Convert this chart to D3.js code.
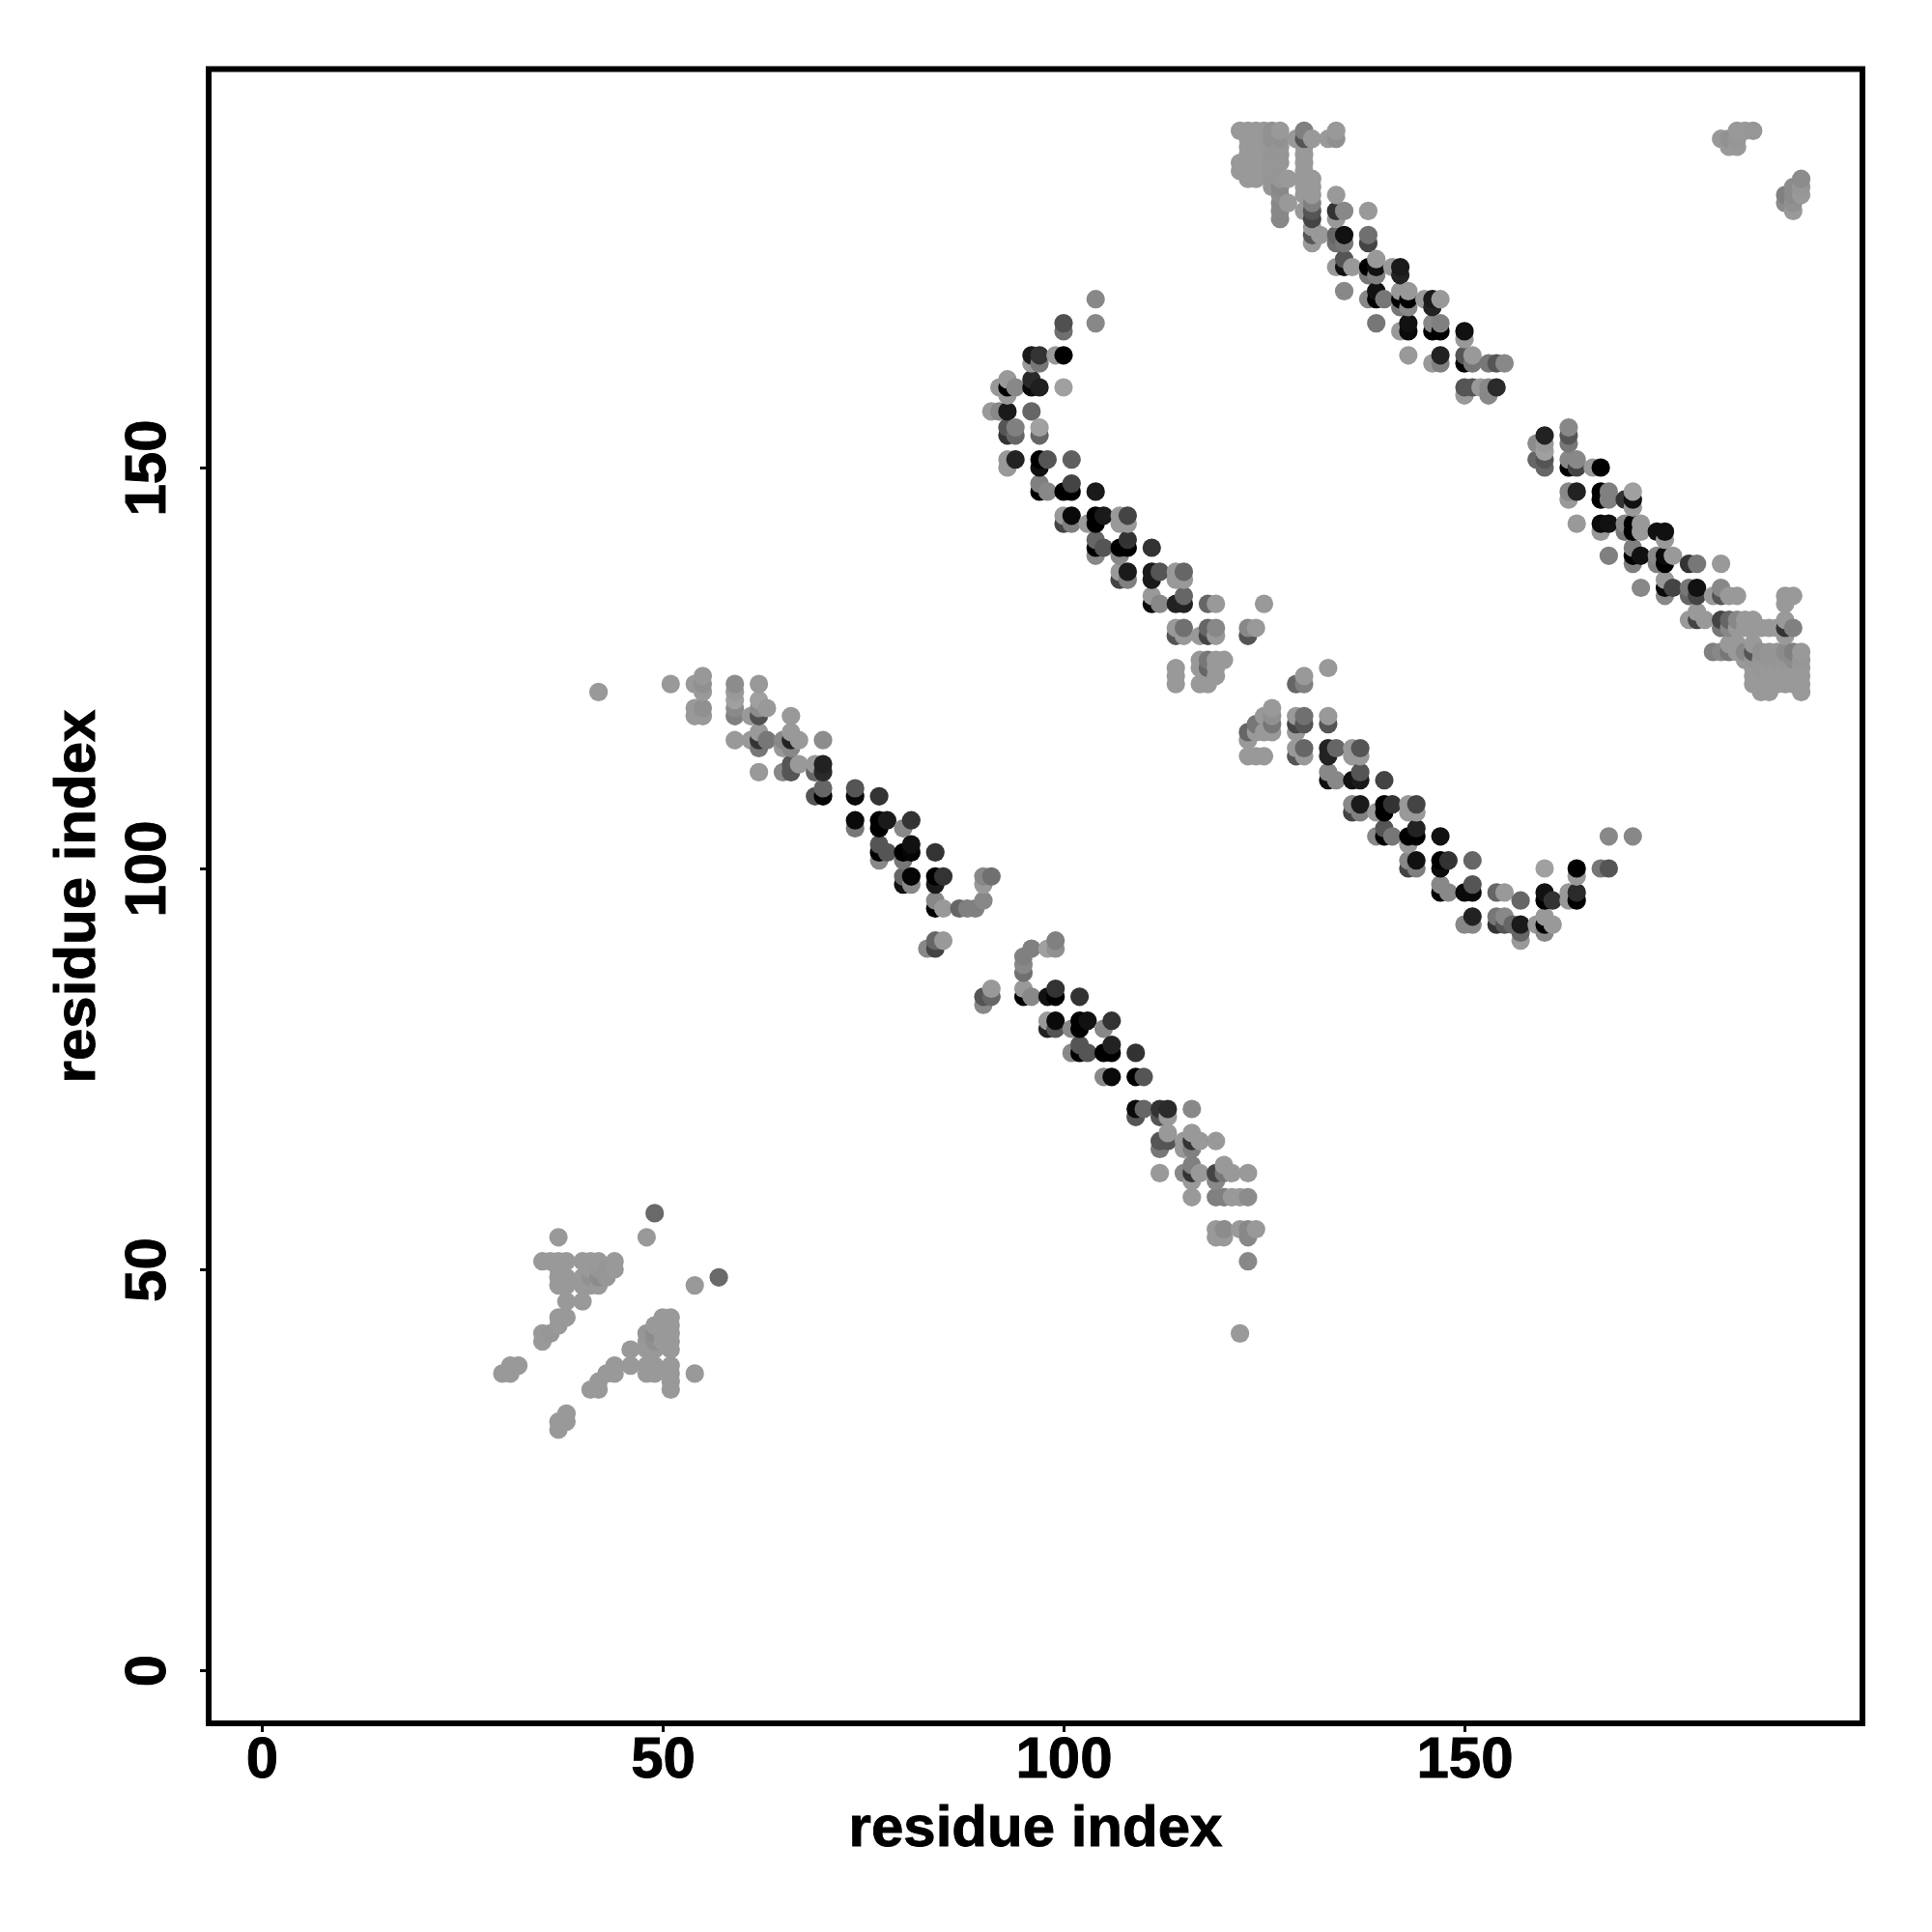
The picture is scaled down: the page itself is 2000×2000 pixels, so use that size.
<!DOCTYPE html>
<html><head><meta charset="utf-8">
<script src="https://cdn.jsdelivr.net/npm/d3@7"></script>
<style>html,body{margin:0;padding:0;background:#fff}svg{display:block}</style>
</head><body><svg id="c" width="2000" height="2000"></svg>
<script>
const tickValues=[0,50,100,150];
const axisTitle="residue index";
// each contact: [residue i, residue j, grey level]
const lowerSheet=[[42,122,153],[122,42,153],[49,57,105],[37,54,153],[48,54,153],[57,49,105],[54,48,153],[54,37,153],
[35,51,153],[36,51,153],[37,51,153],[38,51,153],[40,51,153],[41,51,153],[42,51,153],[44,51,153],
[37,50,153],[41,50,153],[42,50,150],[43,50,150],[44,50,153],[37,49,153],[38,49,153],[40,49,153],[41,49,145],[42,49,140],[43,49,150],
[37,48,153],[38,48,153],[40,48,153],[41,48,153],[42,48,153],[38,46,153],[40,46,153],[37,44,153],[38,44,153],[37,43,153],[35,42,153],[36,42,150],[35,41,153],
[50,44,153],[51,44,153],[49,43,153],[50,43,153],[51,43,153],[48,42,150],[49,42,140],[50,42,153],[51,42,153],[48,41,153],[49,41,145],[50,41,153],[51,41,153],
[46,40,153],[48,40,153],[49,40,153],[51,40,153],[46,38,153],[48,38,153],[49,38,153],[51,38,153],[48,37,153],[49,37,153],[51,37,153],[51,36,153],[51,35,153],
[31,38,153],[32,38,153],[30,37,153],[31,37,153],[44,38,153],[43,37,153],[44,37,153],[42,36,153],[41,35,153],[42,35,153],[38,32,153],[37,31,153],[38,31,153],[37,30,153]];
const helixOne=[[51,123,153],[54,123,153],[55,124,152],[55,123,144],[55,122,153],[54,120,153],[54,119,153],[55,120,144],[55,119,153],
[59,123,140],[59,122,153],[59,121,160],[59,120,138],[59,119,128],[62,123,153],[62,121,160],[63,120,153],[61,119,153],[62,119,80],[62,120,140],[66,119,153],
[59,116,153],[61,116,153],[62,116,51],[63,116,119],[65,116,136],[66,116,34],[67,116,153],[70,116,140],[62,117,153],[62,115,119],[66,117,153],[66,115,136],[65,115,153],
[66,113,85],[67,113,153],[69,113,153],[70,113,34],[62,112,153],[65,112,136],[66,112,85],[69,112,102],[70,112,42],
[70,110,102],[74,110,85],[69,109,85],[70,109,5],[74,109,8],[77,109,51],[74,106,10],[77,106,0],[78,106,26],[81,106,51],[74,105,119],[77,105,0],[80,105,136],
[77,103,85],[81,103,17],[78,102,85],[80,102,0],[81,102,5],[84,102,51],[77,102,0],[77,101,136],[80,101,119],
[80,99,102],[81,99,5],[84,99,0],[85,99,51],[90,99,136],[91,99,112],[80,98,17],[81,98,136],[84,98,26],[90,98,153],[84,96,136],[90,96,136],
[84,95,0],[85,95,153],[87,95,102],[88,95,128],[89,95,128],[84,91,102],[85,91,153],[83,90,136],[84,90,68]];
const helixTwo=[[99,91,128],[99,90,144],[98,90,160],[96,90,128],[95,89,128],[95,88,136],[95,87,112],[91,85,153],[90,84,85],[91,84,102],[90,83,136],
[95,85,153],[95,84,0],[96,84,136],[98,84,17],[99,85,51],[99,84,0],[102,84,51],[98,81,153],[99,81,10],[102,81,0],[103,81,17],[106,81,51],
[98,80,34],[99,80,85],[101,80,136],[102,80,0],[105,80,136],[102,78,85],[106,78,34],[101,77,136],[102,77,0],[103,77,85],[105,77,0],[106,77,0],[109,77,51],
[105,74,136],[106,74,10],[109,74,0],[110,74,85],[109,70,10],[110,70,102],[112,70,51],[113,70,42],[116,70,136],[109,69,85],[112,69,85],[113,69,153],
[113,67,153],[116,67,153],[112,66,85],[113,66,85],[115,66,153],[116,66,51],[117,66,153],[119,66,153],[112,65,119],[115,65,153],[116,65,128],
[116,63,128],[120,63,153],[112,62,153],[115,62,136],[116,62,51],[117,62,153],[119,62,68],[120,62,119],[121,62,153],[123,62,153],[116,61,153],[119,61,136],
[116,59,153],[119,59,128],[120,59,128],[121,59,153],[122,59,153],[123,59,140],[119,55,153],[120,55,140],[122,55,153],[123,55,136],[124,55,153],[119,54,153],[120,54,153],[123,54,136],[123,51,136]];
const helixThree=[[104,171,136],[104,168,136],[100,168,80],[100,167,112],[96,164,26],[97,164,51],[99,164,153],[100,164,0],[96,163,153],[97,163,119],
[93,161,153],[96,161,42],[92,160,153],[93,160,0],[94,160,136],[96,160,10],[97,160,31],[100,160,160],[93,159,153],[91,157,153],[92,157,136],[93,157,26],[96,157,102],
[93,155,85],[94,155,128],[97,155,160],[93,154,51],[94,154,102],[97,154,102],[93,151,153],[94,151,34],[97,151,0],[98,151,85],[101,151,96],[93,150,153],[97,150,15],
[97,148,128],[101,148,68],[97,147,0],[98,147,136],[100,147,0],[101,147,0],[104,147,26],[100,144,153],[101,144,10],[104,144,0],[105,144,26],[107,144,153],[108,144,68],
[100,143,68],[101,143,128],[103,143,153],[104,143,0],[107,143,153],[108,143,153],[104,141,102],[108,141,51],[104,140,0],[105,140,85],[107,140,0],[108,140,0],[111,140,51],[104,139,136],[107,139,136],
[107,137,153],[108,137,26],[111,137,26],[112,137,85],[114,137,153],[115,137,102],[107,136,68],[108,136,128],[111,136,26],[114,136,153],[115,136,153],
[111,134,153],[115,134,102],[111,133,10],[112,133,136],[114,133,34],[115,133,34],[118,133,102],[119,133,153],[125,133,153],
[114,130,153],[115,130,112],[118,130,102],[119,130,136],[123,130,136],[124,130,153],[114,129,85],[115,129,153],[117,129,153],[118,129,68],[119,129,153],[123,129,85],
[117,126,153],[118,126,119],[119,126,153],[120,126,153],[114,125,153],[117,125,153],[118,125,102],[119,125,153],[114,124,153],[118,124,153],[119,124,153],[114,123,153],[117,123,153],[118,123,153]];
const helixFour=[[133,125,153],[130,124,153],[129,123,102],[130,123,128],[126,120,153],[125,119,153],[126,119,144],[129,119,153],[130,119,112],[133,119,153],
[124,118,119],[126,118,119],[123,117,102],[124,117,153],[125,117,153],[126,117,153],[129,118,68],[130,118,85],[133,118,85],[129,117,153],[123,116,153],
[129,115,153],[130,115,102],[133,115,34],[134,115,102],[136,115,153],[137,115,85],[123,114,153],[124,114,153],[125,114,153],[129,114,85],[130,114,153],[133,114,34],[136,114,153],[137,114,153],
[133,112,136],[137,112,85],[133,111,17],[134,111,136],[136,111,17],[137,111,26],[140,111,68],[136,108,136],[137,108,26],[140,108,0],[141,108,51],[143,108,153],[144,108,68],
[136,107,68],[137,107,128],[139,107,153],[140,107,0],[143,107,153],[144,107,153],[140,105,85],[144,105,34],[139,104,136],[140,104,0],[141,104,119],[143,104,0],[144,104,0],[147,104,17],[143,103,153],
[143,101,136],[144,101,17],[147,101,0],[148,101,51],[151,101,102],[143,100,68],[144,100,128],[147,100,10],[147,98,136],[151,98,85],[147,97,0],[148,97,136],[150,97,10],[151,97,10],[154,97,102],[155,97,153],
[157,96,102],[151,94,34],[154,94,119],[155,94,136],[150,93,136],[151,93,136],[154,93,51],[155,93,85],[156,93,102],[157,93,26],[159,93,153],[160,93,0],[161,93,153],[160,94,153],[157,92,102],[160,92,136],[157,91,153],
[160,97,17],[160,96,0],[161,96,51],[163,97,153],[163,96,153],[164,100,0],[164,99,153],[164,97,42],[164,96,0],[160,100,160],[167,100,119],[168,100,85],[168,104,136],[171,104,136]];
const cornerBlockTop=[[122,192,153],[123,192,153],[124,192,153],[125,192,153],[126,192,145],[127,192,153],[123,191,153],[124,191,153],[125,191,153],[126,191,145],[127,191,145],
[123,190,153],[124,190,153],[125,190,153],[126,190,150],[127,190,150],[123,189,153],[124,189,153],[125,189,153],[126,189,150],[127,189,150],[122,188,153],[123,188,153],[124,188,153],[125,188,153],[126,188,150],[127,188,150],
[122,187,153],[123,187,153],[124,187,153],[125,187,153],[126,187,150],[123,186,153],[124,186,153],[126,186,150],[127,186,150],[128,186,153],[126,185,150],[127,185,136],[127,184,140],[127,183,136],[128,183,153],[127,182,136],[127,181,136],
[129,191,153],[130,192,128],[130,191,85],[131,191,153],[130,190,153],[130,189,153],[130,188,153],[130,187,153],[130,186,153],[130,185,153],[130,184,153],[130,182,153],[131,186,153],[131,185,153],[131,184,153],[131,183,128],[131,182,85],[131,181,68],[131,180,153],[131,179,85],[132,179,153],[131,178,153],
[133,191,153],[134,192,153],[134,191,144],[134,184,153],[134,182,51],[135,182,136],[134,181,153],[138,182,153]];
const helixFive=[[134,179,102],[135,179,17],[138,179,112],[134,178,112],[135,178,119],[138,178,68],[135,176,85],[139,176,153],[134,175,153],[135,175,17],[136,175,153],[138,175,0],[139,175,17],[141,175,153],[142,175,26],[138,174,119],[139,174,128],[142,174,34],
[135,172,136],[139,172,17],[142,172,153],[143,172,153],[138,171,136],[139,171,0],[140,171,119],[142,171,0],[143,171,0],[145,171,153],[146,171,26],[147,171,153],[142,170,119],[143,170,136],[146,170,34],
[139,168,119],[143,168,17],[146,168,136],[147,168,128],[142,167,153],[143,167,10],[146,167,0],[147,167,0],[150,167,17],[150,166,153],[143,164,153],[147,164,34],[150,164,85],[151,164,153],
[146,163,153],[147,163,128],[150,163,0],[151,163,119],[153,163,119],[154,163,85],[155,163,136],[150,160,85],[151,160,85],[152,160,153],[153,160,136],[154,160,42],[150,159,153],[153,159,136]];
const helixSix=[[163,155,136],[163,154,85],[163,153,119],[160,154,34],[160,153,153],[160,152,160],[160,151,85],[160,150,102],[159,153,140],[159,151,102],
[163,151,136],[164,151,136],[163,150,0],[164,150,68],[166,150,153],[167,150,0],[163,147,136],[164,147,34],[167,147,0],[168,147,128],[170,146,51],[171,147,160],[171,146,17],[163,146,153],[167,146,0],[168,146,128],[171,145,153],
[164,143,153],[167,143,10],[168,143,17],[170,143,136],[171,143,0],[172,143,153],[167,142,153],[170,142,119],[171,142,0],[172,142,153],[174,142,17],[175,142,17],[175,141,153],[171,140,128],
[168,139,128],[171,139,0],[172,139,17],[174,139,136],[175,139,10],[176,139,153],[171,138,128],[174,138,128],[175,138,0],[178,138,51],[179,138,119],[182,138,153],
[172,135,136],[175,136,153],[175,135,10],[176,135,68],[178,135,119],[179,135,17],[182,135,136],[175,134,136],[178,134,102],[179,134,68],[181,134,153],[182,134,85],[183,134,153],[184,134,153],[190,134,153],[191,134,153],[190,133,153],[179,132,153]];
const cornerBlockRight=[[178,131,153],[179,131,68],[180,131,153],[182,131,68],[183,131,102],[184,131,136],[185,131,153],[186,131,153],[190,131,153],[182,130,119],[183,130,136],[184,130,153],[185,130,153],[186,130,153],[187,130,153],[188,130,153],[189,130,153],[190,130,51],[191,130,128],[190,129,153],
[183,128,153],[184,128,153],[186,128,153],[181,127,128],[182,127,136],[183,127,119],[184,127,153],[185,127,136],[186,127,85],[187,127,145],[188,127,150],[189,127,150],[190,127,140],[191,127,128],[192,127,153],
[185,126,153],[186,126,150],[187,126,150],[188,126,150],[189,126,150],[190,126,150],[191,126,140],[192,126,150],[186,125,153],[187,125,150],[188,125,153],[189,125,153],[190,125,153],[191,125,153],[192,125,153],
[186,124,153],[187,124,153],[188,124,153],[189,124,153],[190,124,153],[191,124,153],[192,124,153],[186,123,153],[187,123,153],[188,123,153],[189,123,153],[190,123,153],[191,123,153],[192,123,153],[187,122,153],[188,122,153],[192,122,153]];
const farCorner=[[182,191,153],[183,191,145],[184,191,150],[183,190,153],[184,190,153],[184,192,153],[185,192,153],[186,192,150],[190,184,128],[190,183,140],[191,182,153],[191,184,140],[192,186,140],[192,185,150],[192,184,153],[191,185,140],[191,183,145]];

const contacts=[].concat(lowerSheet,helixOne,helixTwo,helixThree,helixFour,helixFive,helixSix,cornerBlockTop,cornerBlockRight,farCorner)
  .map(d=>({i:d[0],j:d[1],g:d[2]}))
  .sort((a,b)=>d3.ascending(a.i,b.i)||d3.ascending(a.j,b.j));

const svg=d3.select("#c");
svg.append("rect").attr("width",2000).attr("height",2000).attr("fill","#fff");
const x=d3.scaleLinear().domain([0,192]).range([271,271+192*8.3]);
const y=d3.scaleLinear().domain([0,192]).range([1729,1729-192*8.3]);
const shade=d3.scaleLinear().domain([0,255]).range(["#000","#fff"]);
const F="'Liberation Sans',Arial,Helvetica,sans-serif";

svg.append("g").selectAll("circle").data(contacts).join("circle")
  .attr("cx",d=>x(d.i)).attr("cy",d=>y(d.j)).attr("r",9.6).attr("fill",d=>shade(d.g));

svg.append("rect").attr("x",216).attr("y",71.5).attr("width",1712).attr("height",1712.5)
  .attr("fill","none").attr("stroke","#000").attr("stroke-width",6);

const gx=svg.append("g").attr("transform","translate(0,1784)")
  .call(d3.axisBottom(x).tickValues(tickValues).tickSizeOuter(0).tickSize(9));
gx.select(".domain").remove();
gx.selectAll("line").attr("stroke","#000").attr("stroke-width",3);
gx.selectAll("text").attr("y",56).attr("dy",null).attr("font-family",F).attr("font-weight","bold").attr("font-size",60).attr("fill","#000").attr("stroke","#000").attr("stroke-width",0.9);

const gy=svg.append("g").attr("transform","translate(216,0)")
  .call(d3.axisLeft(y).tickValues(tickValues).tickSizeOuter(0).tickSize(9));
gy.select(".domain").remove();
gy.selectAll("line").attr("stroke","#000").attr("stroke-width",3);
gy.selectAll("text").attr("x",null).attr("y",null).attr("dy",null)
  .attr("transform","translate(-45,0) rotate(-90)").attr("text-anchor","middle")
  .attr("font-family",F).attr("font-weight","bold").attr("font-size",60).attr("fill","#000").attr("stroke","#000").attr("stroke-width",0.9);

svg.append("text").attr("x",1072).attr("y",1911).attr("text-anchor","middle")
  .attr("font-family",F).attr("font-weight","bold").attr("font-size",60).attr("stroke","#000").attr("stroke-width",0.9).text(axisTitle);
svg.append("text").attr("transform","translate(98,928) rotate(-90)").attr("text-anchor","middle")
  .attr("font-family",F).attr("font-weight","bold").attr("font-size",60).attr("stroke","#000").attr("stroke-width",0.9).text(axisTitle);
</script></body></html>
